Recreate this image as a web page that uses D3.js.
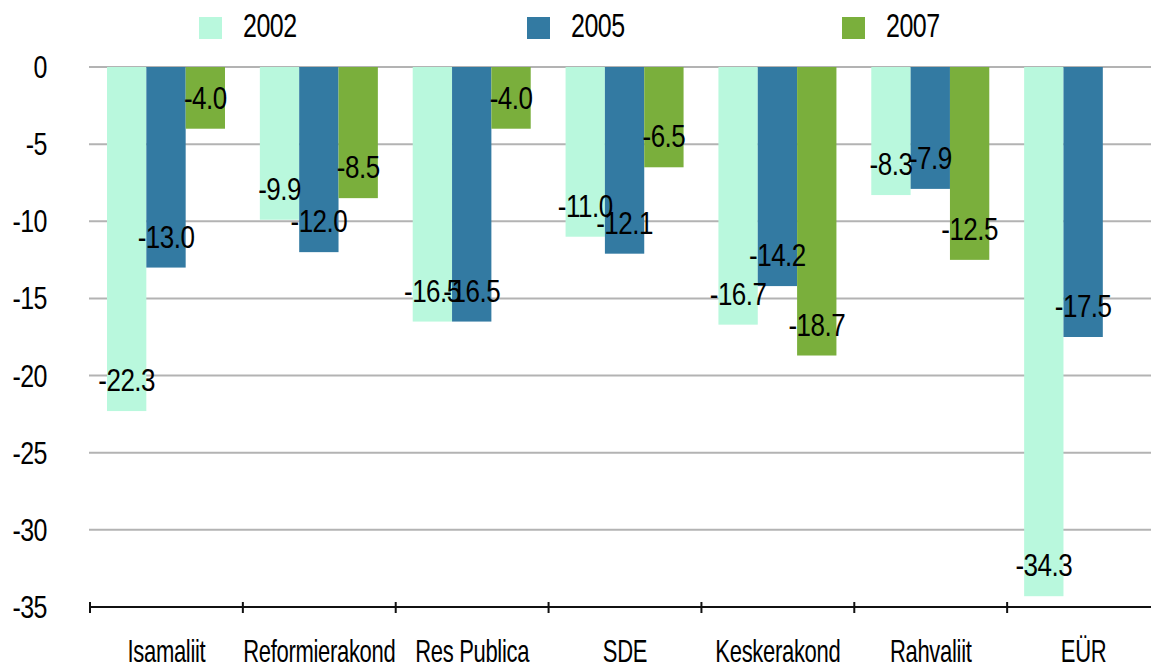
<!DOCTYPE html>
<html>
<head>
<meta charset="utf-8">
<script src="https://cdn.jsdelivr.net/npm/d3@7"></script>
<style>
  body { margin: 0; background: #fff; }
  svg { display: block; }
  text { font-family: "Liberation Sans", Arial, sans-serif; fill: #000; }
</style>
</head>
<body>
<svg width="1151" height="669"></svg>
<script>
var categories = ["Isamaliit", "Reformierakond", "Res Publica", "SDE", "Keskerakond", "Rahvaliit", "EÜR"];
var seriesNames = ["2002", "2005", "2007"];
var values2002 = [-22.3, -9.9, -16.5, -11.0, -16.7, -8.3, -34.3];
var values2005 = [-13.0, -12.0, -16.5, -12.1, -14.2, -7.9, -17.5];
var values2007 = [-4.0, -8.5, -4.0, -6.5, -18.7, -12.5, null];
var yTicks = [0, -5, -10, -15, -20, -25, -30, -35];
var colors = ["#b9f8dd", "#337aa2", "#7aaf3c"];

function main(){
    var svg = d3.select("svg");
    var allSeries = [values2002, values2005, values2007];

    var xScale = d3.scaleBand().domain(categories).range([90, 1160]).padding(0),
        inner = d3.scaleBand().domain(seriesNames).range([17, 135]).padding(0),
        yScale = d3.scaleLinear().domain([-35, 0]).range([607, 67]);

    // gridlines
    svg.append("g").selectAll("line")
        .data(yTicks.filter(function(d){ return d !== -35; }))
        .enter().append("line")
        .attr("x1", 89).attr("x2", 1151)
        .attr("y1", function(d){ return yScale(d); })
        .attr("y2", function(d){ return yScale(d); })
        .attr("stroke", "#b3b3b3").attr("stroke-width", 2);

    // y labels
    svg.append("g").selectAll("text")
        .data(yTicks)
        .enter().append("text")
        .attr("text-anchor", "end")
        .attr("font-size", "25px")
        .attr("letter-spacing", "-0.5px")
        .attr("transform", function(d){ return "translate(47," + (yScale(d) + 11) + ") scale(1,1.25)"; })
        .text(function(d){ return d; });

    // bars
    var flat = [];
    categories.forEach(function(c, i){
        allSeries.forEach(function(s, j){
            if (s[i] !== null) flat.push({cat: c, series: seriesNames[j], idx: j, value: s[i]});
        });
    });

    var g = svg.append("g");
    g.selectAll(".bar")
        .data(flat)
        .enter().append("rect")
        .attr("class", "bar")
        .attr("x", function(d){ return xScale(d.cat) + inner(d.series); })
        .attr("y", yScale(0))
        .attr("width", inner.bandwidth())
        .attr("height", function(d){ return yScale(d.value) - yScale(0); })
        .attr("fill", function(d){ return colors[d.idx]; });

    // value labels
    g.selectAll(".lbl")
        .data(flat)
        .enter().append("text")
        .attr("class", "lbl")
        .attr("text-anchor", "middle")
        .attr("font-size", "26px")
        .attr("letter-spacing", "-0.5px")
        .attr("transform", function(d){
            var x = xScale(d.cat) + inner(d.series) + inner.bandwidth() / 2;
            var y = yScale(d.value) - 31 + 11;
            return "translate(" + x + "," + y + ") scale(1,1.2)";
        })
        .text(function(d){ return d.value.toFixed(1); });

    // x axis
    var axis = svg.append("g").attr("transform", "translate(0,607)");
    axis.append("line").attr("x1", 89).attr("x2", 1151).attr("y1", 0).attr("y2", 0)
        .attr("stroke", "#111").attr("stroke-width", 2);
    axis.selectAll(".tick")
        .data(categories)
        .enter().append("line")
        .attr("x1", function(d){ return xScale(d); })
        .attr("x2", function(d){ return xScale(d); })
        .attr("y1", -5).attr("y2", 6)
        .attr("stroke", "#111").attr("stroke-width", 2);
    axis.selectAll(".cat")
        .data(categories)
        .enter().append("text")
        .attr("text-anchor", "middle")
        .attr("font-size", "22px")
        .attr("letter-spacing", "-0.3px")
        .attr("transform", function(d){ return "translate(" + (xScale(d) + xScale.bandwidth() / 2) + ",55) scale(1,1.4)"; })
        .text(function(d){ return d; });

    // legend
    var legendX = [199, 527, 842];
    var legend = svg.append("g").selectAll("g")
        .data(seriesNames)
        .enter().append("g")
        .attr("transform", function(d, i){ return "translate(" + legendX[i] + ",17)"; });
    legend.append("rect").attr("width", 23).attr("height", 22)
        .attr("fill", function(d, i){ return colors[i]; });
    legend.append("text")
        .attr("font-size", "25px")
        .attr("letter-spacing", "-0.5px")
        .attr("transform", "translate(44,20) scale(1,1.3)")
        .text(function(d){ return d; });
}
main();
</script>
</body>
</html>
